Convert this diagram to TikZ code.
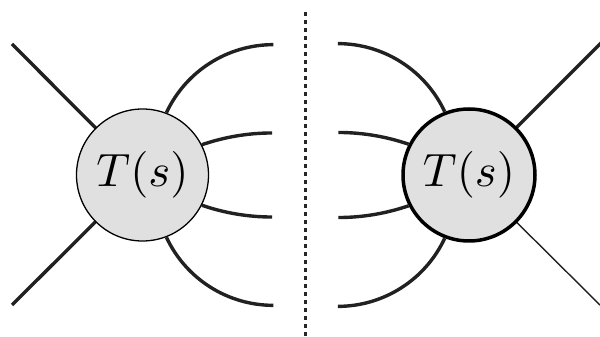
\documentclass[tikz,border=0pt]{standalone}
\begin{document}
\begin{tikzpicture}[x=1pt,y=1pt,
  leg/.style={line width=3.4pt,color=black!87},
  thinleg/.style={line width=1.4pt,color=black!87},
  blob/.style={circle,fill=black!12,draw=black,inner sep=0pt,minimum size=132pt},
  divider/.style={line width=3.5pt,color=black!85,dash pattern=on 4pt off 4pt}]
  \useasboundingbox (0,0) rectangle (600,337);

  % free ends of the legs
  \coordinate (lnw) at (12,293);
  \coordinate (lsw) at (12,32);
  \coordinate (rne) at (602,295);
  \coordinate (rse) at (602,30);
  \coordinate (dtop) at (305.5,325);
  \coordinate (dbot) at (305.5,0);

  % centres of the two blobs
  \coordinate (lc0) at (142.5,162);
  \coordinate (rc0) at (469,162);

  % external legs
  \draw[leg] (lnw) -- (lc0);
  \draw[leg] (lsw) -- (lc0);
  \draw[leg] (rne) -- (rc0);
  \draw[thinleg] (rse) -- (rc0);

  % blobs
  \node[blob,line width=1.3pt] (L) at (lc0) {\resizebox{92pt}{!}{$T(s)$}};
  \node[blob,line width=3.5pt] (R) at (rc0) {\resizebox{92pt}{!}{$T(s)$}};

  % cut legs on the left: circular arcs ending horizontally
  \draw[leg] (L.69) arc[start angle=155, end angle=90, radius=118];
  \draw[leg] (L.27) arc[start angle=109, end angle=90, radius=216];
  \draw[leg] (L.-27) arc[start angle=-109, end angle=-90, radius=216];
  \draw[leg] (L.-69) arc[start angle=-155, end angle=-90, radius=118];

  % cut legs on the right, mirrored
  \draw[leg] (R.111) arc[start angle=25, end angle=90, radius=118];
  \draw[leg] (R.153) arc[start angle=71, end angle=90, radius=216];
  \draw[leg] (R.-153) arc[start angle=-71, end angle=-90, radius=216];
  \draw[leg] (R.-111) arc[start angle=-25, end angle=-90, radius=118];

  % cut line
  \draw[divider] (dtop) -- (dbot);
\end{tikzpicture}
\end{document}
